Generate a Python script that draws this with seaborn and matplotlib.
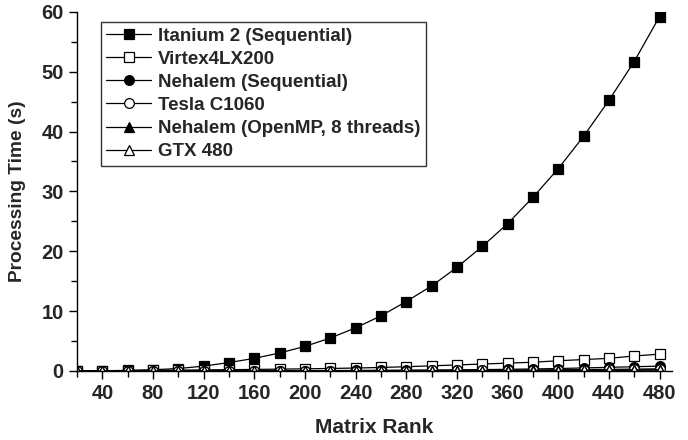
import pandas as pd
import seaborn as sns
import matplotlib.pyplot as plt
from matplotlib.ticker import MultipleLocator

# Matrix ranks on x axis
ranks = [20, 40, 60, 80, 100, 120, 140, 160, 180, 200, 220, 240,
         260, 280, 300, 320, 340, 360, 380, 400, 420, 440, 460, 480]

# Processing times (s)
itanium = [0.0, 0.03, 0.08, 0.2, 0.4, 0.8, 1.4, 2.1, 3.0, 4.1, 5.5, 7.2,
           9.2, 11.6, 14.2, 17.3, 20.8, 24.6, 29.0, 33.8, 39.2, 45.2, 51.7, 59.2]
virtex = [0.02, 0.04, 0.07, 0.1, 0.13, 0.17, 0.21, 0.25, 0.3, 0.35, 0.41, 0.48,
          0.58, 0.7, 0.85, 1.0, 1.15, 1.3, 1.45, 1.7, 1.9, 2.1, 2.5, 2.8]
nehalem_seq = [0.0, 0.0, 0.0, 0.005, 0.01, 0.01, 0.02, 0.03, 0.04, 0.05, 0.06, 0.08,
               0.1, 0.12, 0.15, 0.18, 0.22, 0.27, 0.33, 0.4, 0.5, 0.6, 0.7, 0.8]
tesla = [0.0, 0.0, 0.0, 0.0, 0.01, 0.01, 0.01, 0.02, 0.02, 0.03, 0.04, 0.05,
         0.06, 0.07, 0.08, 0.1, 0.12, 0.14, 0.16, 0.19, 0.22, 0.26, 0.3, 0.35]
nehalem_omp = [0.0, 0.0, 0.0, 0.0, 0.0, 0.01, 0.01, 0.01, 0.01, 0.02, 0.02, 0.03,
               0.03, 0.04, 0.05, 0.06, 0.07, 0.08, 0.09, 0.11, 0.13, 0.15, 0.17, 0.2]
gtx480 = [0.0, 0.0, 0.0, 0.0, 0.0, 0.0, 0.01, 0.01, 0.01, 0.01, 0.02, 0.02,
          0.02, 0.03, 0.03, 0.04, 0.05, 0.05, 0.06, 0.07, 0.08, 0.1, 0.12, 0.14]

series = [
    ('Itanium 2 (Sequential)', itanium, 's', 'black'),
    ('Virtex4LX200', virtex, 's', 'white'),
    ('Nehalem (Sequential)', nehalem_seq, 'o', 'black'),
    ('Tesla C1060', tesla, 'o', 'white'),
    ('Nehalem (OpenMP, 8 threads)', nehalem_omp, '^', 'black'),
    ('GTX 480', gtx480, '^', 'white'),
]

sns.set_style('ticks')
plt.rcParams['font.family'] = ['Liberation Sans', 'DejaVu Sans']
plt.rcParams['font.weight'] = 'bold'

fig = plt.figure(figsize=(6.88, 4.4), dpi=100)
ax = fig.add_axes([0.112, 0.157, 0.865, 0.816])

for name, vals, mk, face in series:
    sns.lineplot(x=ranks, y=vals, ax=ax, color='black', linewidth=0.9,
                 marker=mk, markersize=7, markerfacecolor=face,
                 markeredgecolor='black', markeredgewidth=0.9, label=name)

ax.set_xlim(20, 490)
ax.set_ylim(0, 60)
ax.xaxis.set_minor_locator(MultipleLocator(20))
ax.yaxis.set_major_locator(MultipleLocator(10))
ax.yaxis.set_minor_locator(MultipleLocator(5))
ax.set_xticks(range(40, 481, 40))
ax.tick_params(axis='both', which='major', length=6, width=1, labelsize=14.5, color='black')
ax.tick_params(axis='both', which='minor', length=4, width=1, color='black')
for lab in ax.get_xticklabels() + ax.get_yticklabels():
    lab.set_fontweight('bold')

for s in ['top', 'right']:
    ax.spines[s].set_visible(False)
for s in ['left', 'bottom']:
    ax.spines[s].set_color('black')
    ax.spines[s].set_linewidth(1)

ax.set_xlabel('Matrix Rank', fontsize=15, fontweight='bold', labelpad=11)
ax.set_ylabel('Processing Time (s)', fontsize=13.8, fontweight='bold', labelpad=11)

leg = ax.legend(loc='upper left', bbox_to_anchor=(0.04, 0.972), borderaxespad=0,
                frameon=True, fancybox=False, edgecolor='black',
                handlelength=2.4, handletextpad=0.36, labelspacing=0.32,
                borderpad=0.3, prop={'weight': 'bold', 'size': 13.5})
leg.get_frame().set_linewidth(1)

fig.savefig('out.png', dpi=100)
